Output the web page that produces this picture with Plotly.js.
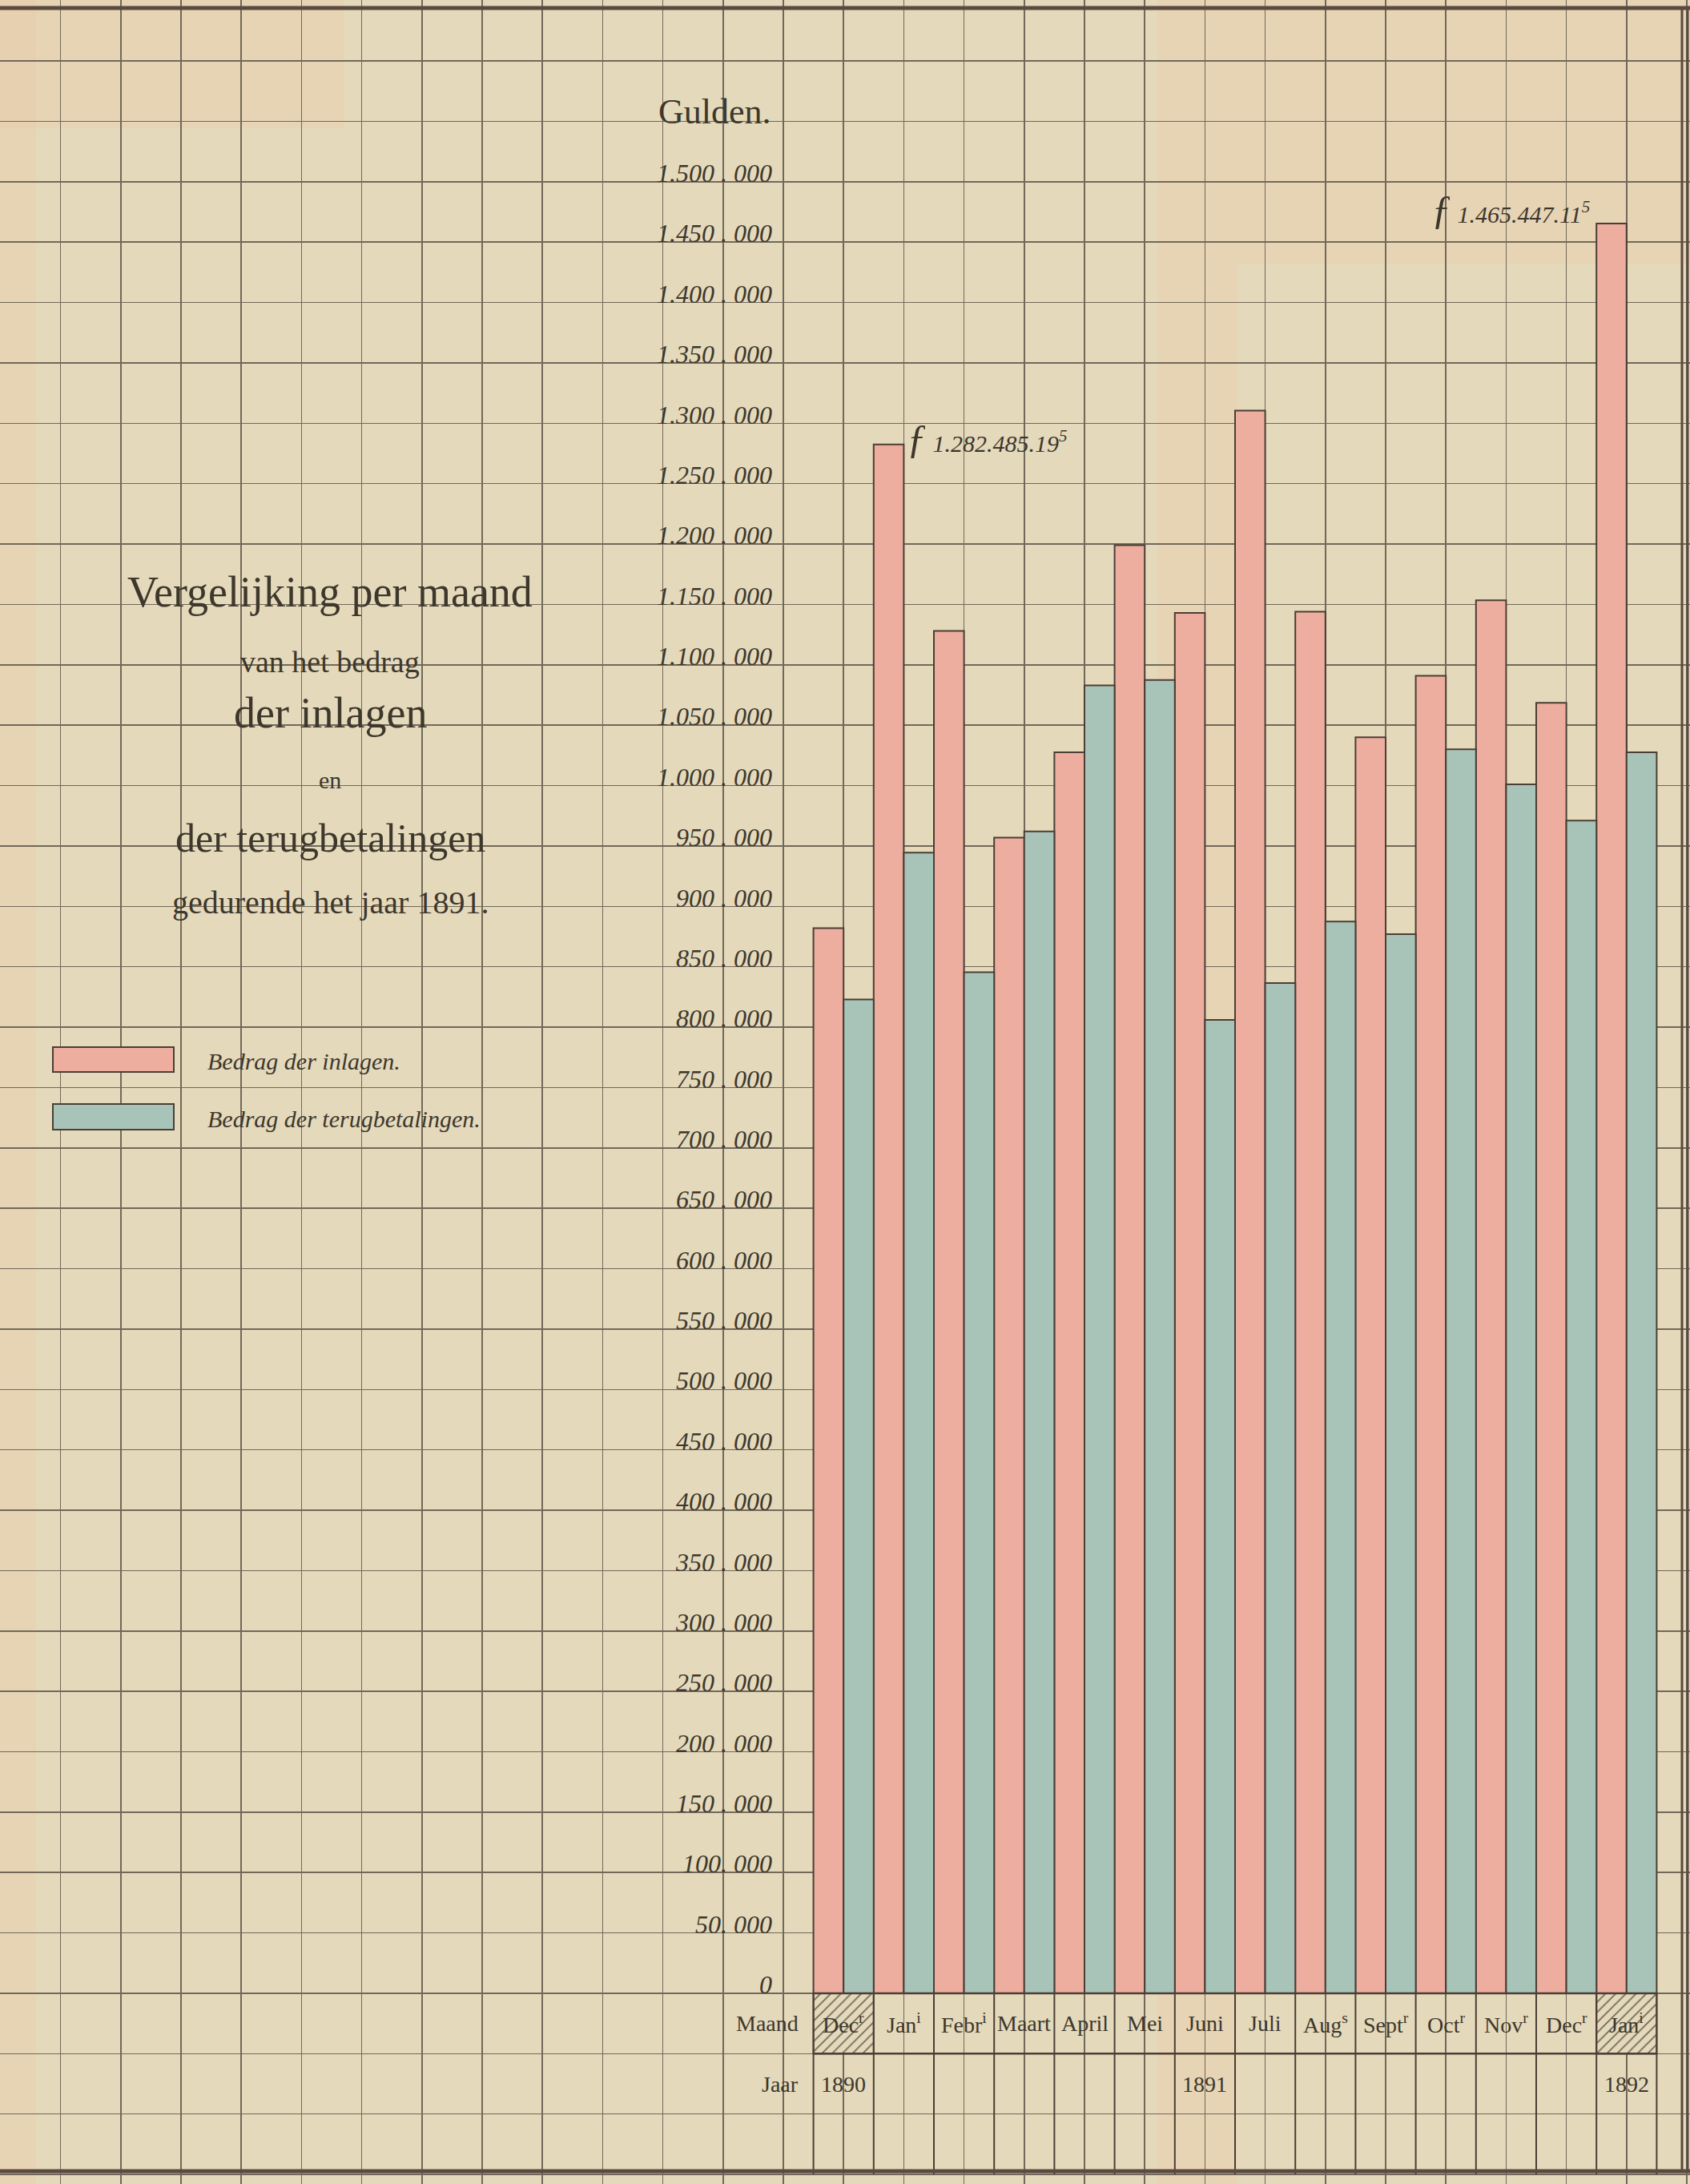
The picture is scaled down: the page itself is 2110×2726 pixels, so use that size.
<!DOCTYPE html>
<html><head><meta charset="utf-8">
<script src="https://cdn.plot.ly/plotly-3.0.1.min.js"></script>
<style>html,body{margin:0;padding:0;background:#e4d9bb;} #chart{width:2110px;height:2726px;}</style>
</head><body><div id="chart"></div>
<script>
// ---- data ----
const monthLabels = ["Dec<sup>r</sup>","Jan<sup>i</sup>","Febr<sup>i</sup>","Maart","April","Mei","Juni","Juli","Aug<sup>s</sup>","Sept<sup>r</sup>","Oct<sup>r</sup>","Nov<sup>r</sup>","Dec<sup>r</sup>","Jan<sup>i</sup>"];
const monthYears = [1890,1891,1891,1891,1891,1891,1891,1891,1891,1891,1891,1891,1891,1892];
const yearLabelIndex = [0, 6, 13];
const yearLabelText = ["1890", "1891", "1892"];
const inlagen = [882000, 1282485, 1128000, 957000, 1027500, 1199000, 1143000, 1310500, 1144000, 1040000, 1091000, 1153500, 1068500, 1465447];
const terugbetalingen = [823000, 944500, 845500, 962000, 1083000, 1087500, 806000, 836500, 887500, 877000, 1030000, 1001000, 971000, 1027500];
const yTickValues = [0,50000,100000,150000,200000,250000,300000,350000,400000,450000,500000,550000,600000,650000,700000,750000,800000,850000,900000,950000,1000000,1050000,1100000,1150000,1200000,1250000,1300000,1350000,1400000,1450000,1500000];
const yTickLabels = ["0","50. 000","100. 000","150 . 000","200 . 000","250 . 000","300 . 000","350 . 000","400 . 000","450 . 000","500 . 000","550 . 000","600 . 000","650 . 000","700 . 000","750 . 000","800 . 000","850 . 000","900 . 000","950 . 000","1.000 . 000","1.050 . 000","1.100 . 000","1.150 . 000","1.200 . 000","1.250 . 000","1.300 . 000","1.350 . 000","1.400 . 000","1.450 . 000","1.500 . 000"];
const gridOnlyValues = [-150000,-100000,-50000,1550000,1600000];
const amountLabels = ["<span style='font-size:50px'>ƒ</span> 1.282.485.19<sup>5</sup>", "<span style='font-size:50px'>ƒ</span> 1.465.447.11<sup>5</sup>"];
const seriesNames = ["Bedrag der inlagen.", "Bedrag der terugbetalingen."];
const titleLines = ["Vergelijking per maand","van het bedrag","der inlagen","en","der terugbetalingen","gedurende het jaar 1891."];

// ---- style ----
const W = 2110, H = 2726;
const PINK = '#eeae9f', TEAL = '#a8c4b9', EDGE = '#4b3e35', INK = '#3d372c';
const GRID = '#72685a', PAPER = '#e4d9bb';
const ROW = 50000;
const px = v => v / W, py = v => 1 - v / H;

const idx = monthLabels.map((_, i) => i);
const hatchIdx = idx.filter(i => monthYears[i] !== 1891);
const allTicks = yTickValues.concat(gridOnlyValues);
const allText = yTickLabels.concat(gridOnlyValues.map(() => ' '));

const traces = [
  {type:'bar', x: idx, y: inlagen, width: 0.5, offset: -0.5, name: seriesNames[0],
   marker:{color: PINK, line:{color: EDGE, width: 2}}, hoverinfo:'skip', showlegend:false},
  {type:'bar', x: idx, y: terugbetalingen, width: 0.5, offset: 0, name: seriesNames[1],
   marker:{color: TEAL, line:{color: EDGE, width: 2}}, hoverinfo:'skip', showlegend:false},
  {type:'bar', x: hatchIdx, y: hatchIdx.map(() => ROW), base: hatchIdx.map(() => -ROW), width: 1, offset: -0.5,
   marker:{color: PAPER, pattern:{shape:'/', fgcolor:'#6d6556', bgcolor: PAPER, size: 9, solidity: 0.18},
           line:{color: EDGE, width: 2}}, hoverinfo:'skip', showlegend:false}
];

const serif = 'Liberation Serif, Times New Roman, serif';
const annotations = [];
annotations.push({xref:'paper', yref:'paper', x: px(892), y: py(139), xanchor:'center', yanchor:'middle', text:'Gulden.', showarrow:false,
  font:{family: serif, size: 44, color: INK}});
idx.forEach(i => annotations.push({x: i, y: -ROW/2, xanchor:'center', yanchor:'middle', text: monthLabels[i], showarrow:false,
  font:{family: serif, size: 28, color: INK}}));
annotations.push({x: -0.72, y: -ROW/2, xanchor:'right', yanchor:'middle', text:'Maand', showarrow:false, font:{family: serif, size: 28, color: INK}});
annotations.push({x: -0.72, y: -1.5*ROW, xanchor:'right', yanchor:'middle', text:'Jaar', showarrow:false, font:{family: serif, size: 28, color: INK}});
yearLabelIndex.forEach((i, k) => annotations.push({x: i, y: -1.5*ROW, xanchor:'center', yanchor:'middle', text: yearLabelText[k], showarrow:false,
  font:{family: serif, size: 28, color: INK}}));
annotations.push({x: 1, y: inlagen[1], xanchor:'left', yanchor:'middle', xshift: 2, yshift: 8,
  text: amountLabels[0], showarrow:false, font:{family: serif, size: 30, color: INK, style:'italic'}});
annotations.push({x: 12.5, y: inlagen[13], xanchor:'right', yanchor:'middle', xshift: -6, yshift: 18,
  text: amountLabels[1], showarrow:false, font:{family: serif, size: 30, color: INK, style:'italic'}});
const titleY = [739, 826, 890, 973, 1046, 1126];
const titleSize = [54, 38, 54, 30, 50, 40];
titleLines.forEach((t, k) => annotations.push({xref:'paper', yref:'paper', x: px(412), y: py(titleY[k]), xanchor:'center', yanchor:'middle',
  text: t, showarrow:false, font:{family: serif, size: titleSize[k], color: INK}}));
annotations.push({xref:'paper', yref:'paper', x: px(257), y: py(1324), xanchor:'left', yanchor:'middle', text: seriesNames[0], showarrow:false,
  font:{family: serif, size: 30, color: INK, style:'italic'}});
annotations.push({xref:'paper', yref:'paper', x: px(257), y: py(1396), xanchor:'left', yanchor:'middle', text: seriesNames[1], showarrow:false,
  font:{family: serif, size: 30, color: INK, style:'italic'}});

const shapes = [];
const tint = 'rgba(238,196,160,0.22)';
[[0,0,430,160],[0,0,45,2726],[1445,0,1545,2726],[1545,0,2110,330]].forEach(r =>
  shapes.push({type:'rect', xref:'paper', yref:'paper', x0: px(r[0]), x1: px(r[2]), y0: py(r[3]), y1: py(r[1]),
    fillcolor: tint, line:{width:0}, layer:'below'}));
shapes.push({type:'rect', xref:'paper', yref:'paper', x0: px(66), x1: px(217), y0: py(1338), y1: py(1307),
  fillcolor: PINK, line:{color: EDGE, width: 2}});
shapes.push({type:'rect', xref:'paper', yref:'paper', x0: px(66), x1: px(217), y0: py(1410), y1: py(1378),
  fillcolor: TEAL, line:{color: EDGE, width: 2}});
for (let k = 0; k <= monthLabels.length; k++) {
  shapes.push({type:'line', x0: k - 0.5, x1: k - 0.5, y0: 0, y1: -3*ROW, line:{color: EDGE, width: 2}});
}
[0, -ROW].forEach(v => shapes.push({type:'line', x0: -0.5, x1: monthLabels.length - 0.5, y0: v, y1: v,
  line:{color: EDGE, width: 2.5}}));
shapes.push({type:'line', xref:'paper', yref:'paper', x0: 0, x1: 1, y0: py(10), y1: py(10), line:{color:'#5a4a40', width: 5}});
shapes.push({type:'line', xref:'paper', yref:'paper', x0: 0, x1: 1, y0: py(2710), y1: py(2710), line:{color:'#5a4a40', width: 5}});
shapes.push({type:'line', xref:'paper', yref:'paper', x0: px(2100), x1: px(2100), y0: py(10), y1: py(2710), line:{color:'#5a4a40', width: 3}});
shapes.push({type:'line', xref:'paper', yref:'paper', x0: px(2107), x1: px(2107), y0: py(10), y1: py(2710), line:{color:'#5a4a40', width: 3}});

const layout = {
  width: W, height: H,
  margin:{l:0, r:0, t:0, b:0, pad:0},
  paper_bgcolor: PAPER, plot_bgcolor: 'rgba(0,0,0,0)',
  barmode: 'overlay',
  showlegend: false,
  xaxis: {range: [-14.005, 14.053], tickmode:'linear', tick0: 0, dtick: 1, showgrid: true,
          gridcolor: GRID, gridwidth: 1.5, showticklabels: false, zeroline: false, showline: false, fixedrange: true},
  yaxis: {range: [-157900, 1650500], tickmode:'array', tickvals: allTicks, ticktext: allText,
          showgrid: true, gridcolor: GRID, gridwidth: 1.5, zeroline: false, showline: false, ticks: '',
          anchor: 'free', position: 964 / W, side: 'left', ticklabelshift: -11,
          tickfont: {family: serif, size: 32, color: INK, style: 'italic'}, fixedrange: true},
  annotations: annotations,
  shapes: shapes
};

Plotly.newPlot('chart', traces, layout, {staticPlot: true, displayModeBar: false});
</script>
</body></html>
